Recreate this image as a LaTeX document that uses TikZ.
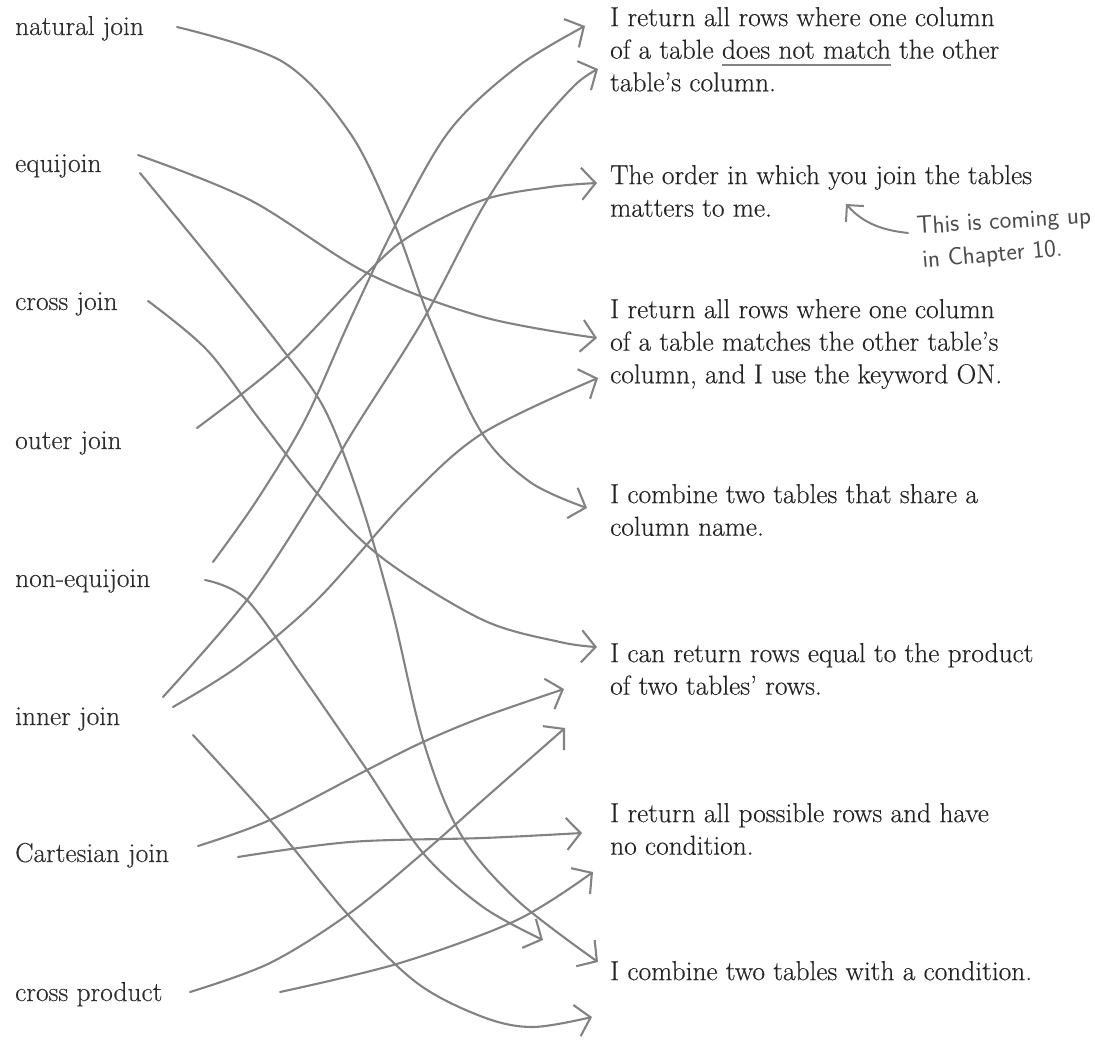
\documentclass[tikz,border=0pt]{standalone}
\usepackage{fontspec}
\newfontfamily\txtfont{Latin Modern Roman}[Ligatures=TeX,FakeBold=0.35]
\usetikzlibrary{arrows.meta}
\definecolor{linecol}{RGB}{130,130,130}
\definecolor{txtcol}{RGB}{35,35,35}
\definecolor{labcol}{RGB}{45,45,45}
\definecolor{anncol}{RGB}{75,75,75}
\newcommand\ulgray[1]{\setbox0=\hbox{#1}\rlap{\textcolor{linecol}{\rule[-7bp]{\wd0}{1.6bp}}}\box0\relax}
\begin{document}
\begin{tikzpicture}[x=1bp,y=-1bp,
  conn/.style={draw=linecol, line width=2.1bp, line cap=round, line join=round,
    -{Straight Barb[length=14bp,width=32bp]}},
  annarrow/.style={draw=linecol, line width=2bp, line cap=round,
    -{Straight Barb[length=12bp,width=24bp]}},
  lab/.style={anchor=base west, inner sep=0pt, text=labcol, font=\txtfont\fontsize{27.5}{32}\selectfont},
  desc/.style={anchor=north west, inner sep=0pt, align=left, text=txtcol,
    font=\txtfont\fontsize{27.5}{32.7}\selectfont},
  ann/.style={anchor=base west, inner sep=0pt, text=anncol, font=\sffamily\fontsize{25}{28}\selectfont}]
\useasboundingbox (0,0) rectangle (1095,1044);

% left labels
\node[lab] (natural) at (15,35) {natural join};
\node[lab] (equi) at (15,172) {equijoin};
\node[lab] (crossj) at (15,310) {cross join};
\node[lab] (outer) at (15,449) {outer join};
\node[lab] (nonequi) at (15,587) {non-equijoin};
\node[lab] (inner) at (15,725) {inner join};
\node[lab] (cart) at (15,862) {Cartesian join};
\node[lab] (crossp) at (15,1001) {cross product};

% right descriptions
\node[desc] (tnomatch) at (610,6.9) {I return all rows where one column\\of a table \ulgray{does not match} the other\\table’s column.};
\node[desc] (torder) at (610,164.9) {The order in which you join the tables\\matters to me.};
\node[desc] (ton) at (610,298.9) {I return all rows where one column\\of a table matches the other table’s\\column, and I use the keyword ON.};
\node[desc] (tshare) at (610,483.9) {I combine two tables that share a\\column name.};
\node[desc] (tproduct) at (610,642.9) {I can return rows equal to the product\\of two tables’ rows.};
\node[desc] (tnocond) at (610,802.9) {I return all possible rows and have\\no condition.};
\node[desc] (tcond) at (610,960.9) {I combine two tables with a condition.};

% annotation
\node[ann, rotate=3.5] (ann1) at (917,234) {This is coming up};
\node[ann, rotate=5] (ann2) at (923,268) {in Chapter 10.};
\coordinate (anns) at (908,233);
\coordinate (anne) at (846,204);
\draw[annarrow] (anns) .. controls (880,230) and (862,222) .. (anne);

% start points
\coordinate (snat) at (177,27);
\coordinate (sequiA) at (138,155);
\coordinate (sequiB) at (140,173);
\coordinate (scross) at (148,301);
\coordinate (souter) at (197,428);
\coordinate (snonA) at (213,562);
\coordinate (snonB) at (205,580);
\coordinate (sinA) at (163,697);
\coordinate (sinB) at (173,707);
\coordinate (sinC) at (193,735);
\coordinate (scartA) at (198,846);
\coordinate (scartB) at (238,857);
\coordinate (scpA) at (190,992);
\coordinate (scpB) at (280,992);

% end points
\coordinate (eA1) at (585,26);
\coordinate (eA2) at (598,69);
\coordinate (eorder) at (597,183);
\coordinate (eon) at (597,338);
\coordinate (eon2) at (598,378);
\coordinate (eshare) at (587,508);
\coordinate (eprod) at (597,647);
\coordinate (eprod2) at (564,689);
\coordinate (eprod3) at (565,728);
\coordinate (enoc) at (582,833);
\coordinate (enoc2) at (593,872);
\coordinate (econd2) at (543,940);
\coordinate (econd) at (598,962);
\coordinate (ebottom) at (592,1017);

% connectors
\draw[conn] plot[smooth, tension=0.55] coordinates {(snat) (283,62) (350,133) (395,225) (430,320) (480,430) (530,482) (eshare)};
\draw[conn] plot[smooth, tension=0.55] coordinates {(sequiA) (250,200) (367,273) (483,317) (eon)};
\draw[conn] plot[smooth, tension=0.55] coordinates {(sequiB) (217,267) (283,350) (325,410) (360,500) (392,610) (423,740) (460,833) (517,900) (econd)};
\draw[conn] plot[smooth, tension=0.55] coordinates {(scross) (207,350) (260,420) (323,500) (385,560) (483,620) (560,642) (eprod)};
\draw[conn] plot[smooth, tension=0.55] coordinates {(souter) (283,360) (367,273) (410,236) (483,200) (550,187) (eorder)};
\draw[conn] plot[smooth, tension=0.55] coordinates {(snonA) (257,500) (305,420) (350,320) (397,222) (450,130) (517,67) (eA1)};
\draw[conn] plot[smooth, tension=0.55] coordinates {(snonB) (247,600) (305,680) (367,770) (423,853) (483,907) (econd2)};
\draw[conn] plot[smooth, tension=0.55] coordinates {(sinA) (247,600) (313,500) (352,433) (423,320) (483,207) (533,133) (575,85) (eA2)};
\draw[conn] plot[smooth, tension=0.55] coordinates {(sinB) (240,665) (317,600) (407,500) (483,433) (eon2)};
\draw[conn] plot[smooth, tension=0.55] coordinates {(sinC) (270,820) (350,917) (417,983) (483,1017) (533,1027) (ebottom)};
\draw[conn] plot[smooth, tension=0.55] coordinates {(scartA) (270,820) (367,770) (423,742) (483,717) (eprod2)};
\draw[conn] plot[smooth, tension=0.55] coordinates {(scartB) (350,842) (483,838) (enoc)};
\draw[conn] plot[smooth, tension=0.55] coordinates {(scpA) (270,963) (350,913) (423,853) (483,800) (eprod3)};
\draw[conn] plot[smooth, tension=0.55] coordinates {(scpB) (400,963) (517,920) (enoc2)};
\end{tikzpicture}
\end{document}
